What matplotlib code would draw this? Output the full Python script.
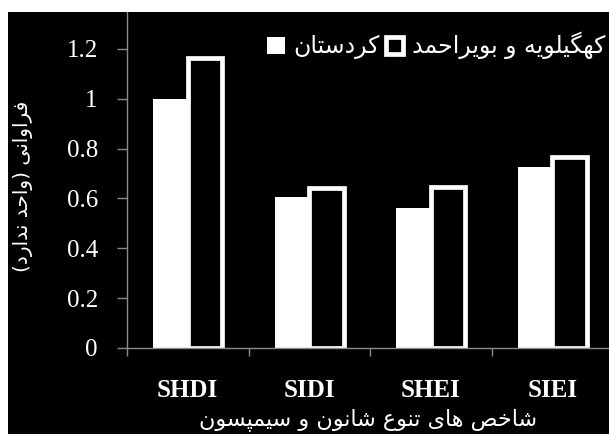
import numpy as np
import matplotlib.pyplot as plt
from matplotlib.patches import Rectangle

# data
categories = ["SHDI", "SIDI", "SHEI", "SIEI"]
kordestan = [1.0, 0.605, 0.563, 0.727]
kohgiluyeh = [1.165, 0.64, 0.644, 0.766]
yticks = [0, 0.2, 0.4, 0.6, 0.8, 1.0, 1.2]
ytick_labels = ["0", "0.2", "0.4", "0.6", "0.8", "1", "1.2"]

label_kordestan = "کردستان"
label_kohgiluyeh = "کهگیلویه و بویراحمد"
ylabel_text = "فراوانی (واحد ندارد)"
xlabel_text = "شاخص های تنوع شانون و سیمپسون"

# matplotlib does no arabic shaping, so pick presentation forms by hand
# (isolated, final, initial, medial); two-form letters only join to the right
FORMS = {
    "ا": ("\uFE8D", "\uFE8E"),
    "د": ("\uFEA9", "\uFEAA"),
    "ر": ("\uFEAD", "\uFEAE"),
    "و": ("\uFEED", "\uFEEE"),
    "ب": ("\uFE8F", "\uFE90", "\uFE91", "\uFE92"),
    "پ": ("\uFB56", "\uFB57", "\uFB58", "\uFB59"),
    "ت": ("\uFE95", "\uFE96", "\uFE97", "\uFE98"),
    "ح": ("\uFEA1", "\uFEA2", "\uFEA3", "\uFEA4"),
    "خ": ("\uFEA5", "\uFEA6", "\uFEA7", "\uFEA8"),
    "س": ("\uFEB1", "\uFEB2", "\uFEB3", "\uFEB4"),
    "ش": ("\uFEB5", "\uFEB6", "\uFEB7", "\uFEB8"),
    "ص": ("\uFEB9", "\uFEBA", "\uFEBB", "\uFEBC"),
    "ع": ("\uFEC9", "\uFECA", "\uFECB", "\uFECC"),
    "ف": ("\uFED1", "\uFED2", "\uFED3", "\uFED4"),
    "ک": ("\uFB8E", "\uFB8F", "\uFB90", "\uFB91"),
    "گ": ("\uFB92", "\uFB93", "\uFB94", "\uFB95"),
    "ل": ("\uFEDD", "\uFEDE", "\uFEDF", "\uFEE0"),
    "م": ("\uFEE1", "\uFEE2", "\uFEE3", "\uFEE4"),
    "ن": ("\uFEE5", "\uFEE6", "\uFEE7", "\uFEE8"),
    "ه": ("\uFEE9", "\uFEEA", "\uFEEB", "\uFEEC"),
    "ی": ("\uFBFC", "\uFBFD", "\uFBFE", "\uFBFF"),
}


def farsi(text):
    out = []
    for i, ch in enumerate(text):
        if ch not in FORMS:
            out.append(ch)
            continue
        prev = text[i - 1] if i > 0 else ""
        nxt = text[i + 1] if i + 1 < len(text) else ""
        joins_prev = prev in FORMS and len(FORMS[prev]) == 4
        joins_next = len(FORMS[ch]) == 4 and nxt in FORMS
        f = FORMS[ch]
        if joins_prev and joins_next:
            out.append(f[3])
        elif joins_prev:
            out.append(f[1])
        elif joins_next:
            out.append(f[2])
        else:
            out.append(f[0])
    mirror = {"(": ")", ")": "("}
    return "".join(mirror.get(c, c) for c in reversed(out))


W, H = 609, 434
fig = plt.figure(figsize=(W / 100, H / 100), dpi=100, facecolor="white")
fig.patches.append(Rectangle((8 / W, 0), 1, 422 / H, transform=fig.transFigure,
                             facecolor="black", edgecolor="none", zorder=-10))

ax = fig.add_axes([127 / W, 86 / H, 486 / W, 336 / H])
ax.set_facecolor("black")

x = np.arange(len(categories))
w = 0.285
ax.bar(x - w / 2, kordestan, w, color="white", label=farsi(label_kordestan), zorder=2)
ax.bar(x + w / 2, kohgiluyeh, w, color="black", edgecolor="white", linewidth=3.4,
       label=farsi(label_kohgiluyeh), zorder=2)

ax.set_xlim(-0.5, 3.5)
ax.set_ylim(0, 1.348)
ax.set_yticks(yticks)
ax.set_yticklabels(ytick_labels, family="Liberation Serif", fontsize=18, color="white")
ax.set_xticks(x)
ax.set_xticklabels(categories, family="Liberation Serif", fontweight="bold",
                   fontsize=18, color="white")
ax.set_xticks(np.arange(-0.5, 4, 1), minor=True)
ax.tick_params(axis="x", which="major", length=0, pad=22)
ax.tick_params(axis="x", which="minor", length=6, color="#8a8a8a", width=1)
ax.tick_params(axis="y", length=7, color="#8a8a8a", width=1, pad=14)

for side in ["top", "right"]:
    ax.spines[side].set_visible(False)
for side in ["left", "bottom"]:
    ax.spines[side].set_color("#8a8a8a")
    ax.spines[side].set_linewidth(1)
    ax.spines[side].set_zorder(3)

leg = ax.legend(loc="upper right", bbox_to_anchor=(605 / W, 1 - 32 / H),
                bbox_transform=fig.transFigure, ncol=2, frameon=False,
                handlelength=0.75, handleheight=0.75, handletextpad=0.35,
                columnspacing=0.25, borderaxespad=0, borderpad=0,
                prop={"family": "DejaVu Sans", "size": 17})
for t in leg.get_texts():
    t.set_color("white")

fig.text(23 / W, 1 - 186 / H, farsi(ylabel_text), rotation=90, ha="center", va="center",
         color="white", family="DejaVu Sans", fontsize=14.5)
fig.text(368 / W, 1 - 420 / H, farsi(xlabel_text), ha="center", va="center",
         color="white", family="DejaVu Sans", fontsize=16)

fig.savefig("out.png", dpi=100, facecolor=fig.get_facecolor())
